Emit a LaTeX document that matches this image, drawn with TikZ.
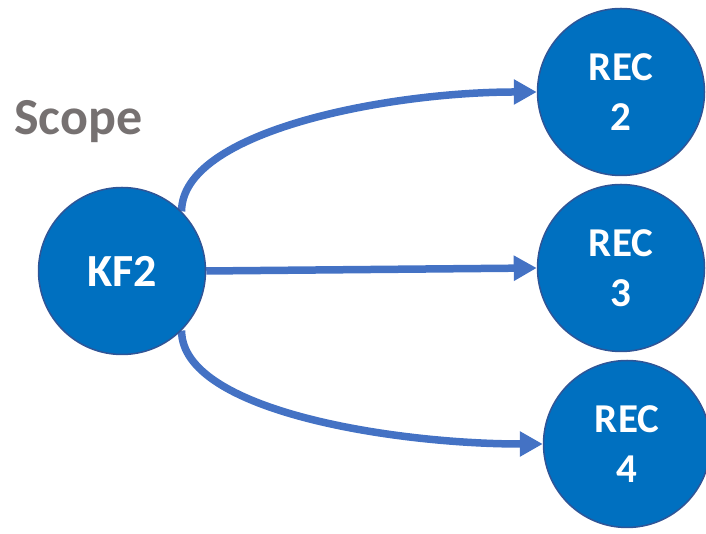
\documentclass[tikz,border=0pt]{standalone}
\usepackage{fontspec}
\setmainfont{Carlito}
\usetikzlibrary{arrows.meta,backgrounds}
\definecolor{nodefill}{HTML}{0070C0}
\definecolor{nodeborder}{HTML}{2F5597}
\definecolor{arrowblue}{HTML}{4472C4}
\definecolor{scopegray}{HTML}{767171}
\tikzset{
  recnode/.style={circle, minimum size=167pt, inner sep=0pt, fill=nodefill, draw=nodeborder, line width=1.5pt, text=white, align=center, font=\bfseries\fontsize{41}{50}\selectfont},
  kfnode/.style={recnode, font=\bfseries\fontsize{46}{50}\selectfont},
  conn/.style={draw=arrowblue, line width=7.5pt, -{Triangle[length=23pt,width=24pt]}}
}
\begin{document}
\begin{tikzpicture}[x=1pt,y=1pt]
\useasboundingbox (0,0) rectangle (706,534);
\node[kfnode] (kf) at (122,263) {KF2};
\node[recnode] (r2) at (621,442) {REC\\2};
\node[recnode] (r3) at (621,266) {REC\\3};
\node[recnode] (r4) at (627,90) {REC\\4};
\node[anchor=base west, text=scopegray, font=\bfseries\fontsize{52}{50}\selectfont, inner sep=0pt] (scope) at (14,399) {Scope};
\begin{scope}[on background layer]
\draw[conn] (kf.45) .. controls ++(0,80) and ++(-150,0) .. (r2.west);
\draw[conn] (kf.east) -- (r3.west);
\draw[conn] (kf.-45) .. controls ++(0,-80) and ++(-150,0) .. (r4.west);
\end{scope}
\end{tikzpicture}
\end{document}
